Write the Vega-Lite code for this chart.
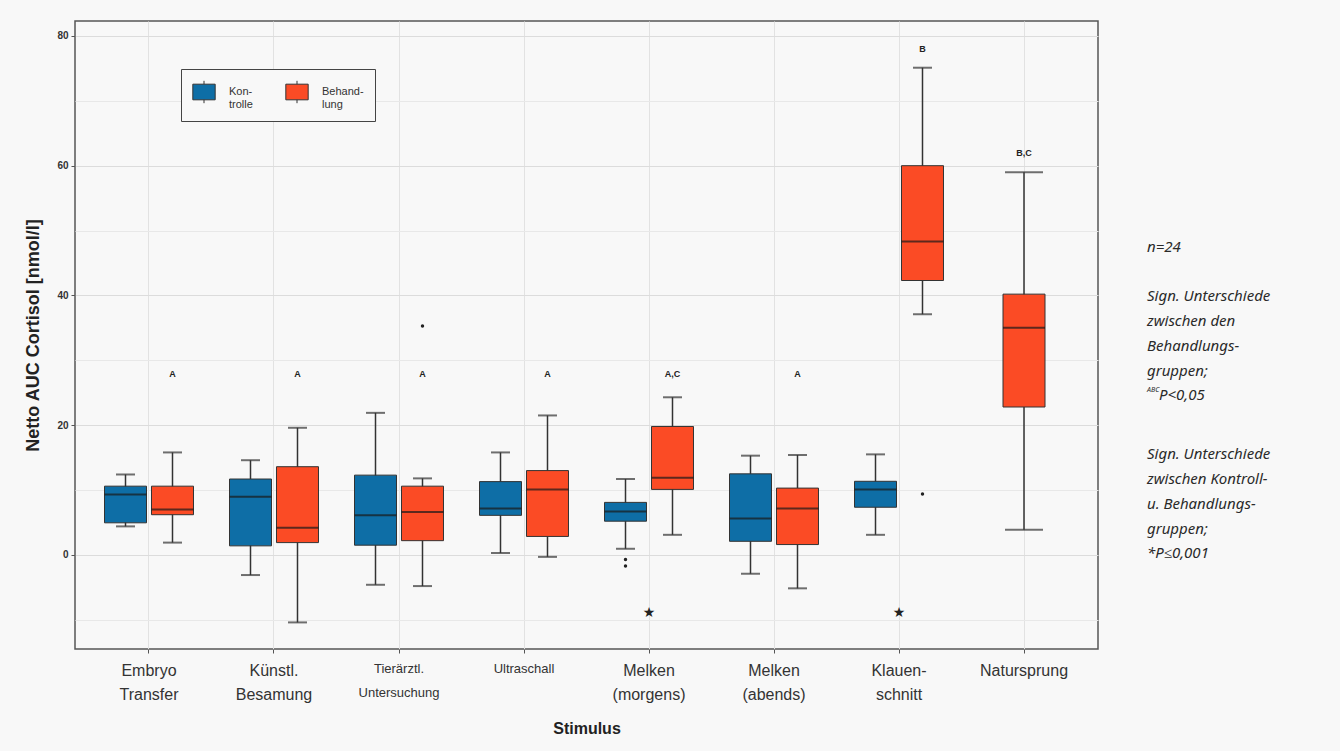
{
  "$schema": "https://vega.github.io/schema/vega-lite/v6.json",
  "background": "#f8f8f8",
  "padding": {"left": 24, "top": 20, "right": 72, "bottom": 15},
  "config": {
    "view": {"fill": "#f8f8f8", "stroke": "#555555", "strokeWidth": 1.5},
    "font": "Liberation Sans"
  },
  "datasets": {
    "boxes": [
      {"stimulus": "Embryo Transfer", "group": "Kontrolle", "lo": 4.4, "q1": 4.95, "med": 9.3, "q3": 10.6, "hi": 12.4},
      {"stimulus": "Embryo Transfer", "group": "Behandlung", "lo": 1.9, "q1": 6.2, "med": 7.0, "q3": 10.6, "hi": 15.8},
      {"stimulus": "Künstl. Besamung", "group": "Kontrolle", "lo": -3.1, "q1": 1.4, "med": 8.95, "q3": 11.7, "hi": 14.6},
      {"stimulus": "Künstl. Besamung", "group": "Behandlung", "lo": -10.4, "q1": 1.9, "med": 4.2, "q3": 13.6, "hi": 19.6},
      {"stimulus": "Tierärztl. Untersuchung", "group": "Kontrolle", "lo": -4.6, "q1": 1.5, "med": 6.1, "q3": 12.3, "hi": 21.9},
      {"stimulus": "Tierärztl. Untersuchung", "group": "Behandlung", "lo": -4.8, "q1": 2.2, "med": 6.6, "q3": 10.6, "hi": 11.8},
      {"stimulus": "Ultraschall", "group": "Kontrolle", "lo": 0.3, "q1": 6.1, "med": 7.15, "q3": 11.3, "hi": 15.8},
      {"stimulus": "Ultraschall", "group": "Behandlung", "lo": -0.3, "q1": 2.85, "med": 10.1, "q3": 13.0, "hi": 21.5},
      {"stimulus": "Melken (morgens)", "group": "Kontrolle", "lo": 0.95, "q1": 5.2, "med": 6.7, "q3": 8.1, "hi": 11.7},
      {"stimulus": "Melken (morgens)", "group": "Behandlung", "lo": 3.1, "q1": 10.1, "med": 11.9, "q3": 19.8, "hi": 24.3},
      {"stimulus": "Melken (abends)", "group": "Kontrolle", "lo": -2.9, "q1": 2.1, "med": 5.6, "q3": 12.5, "hi": 15.3},
      {"stimulus": "Melken (abends)", "group": "Behandlung", "lo": -5.15, "q1": 1.6, "med": 7.15, "q3": 10.3, "hi": 15.4},
      {"stimulus": "Klauenschnitt", "group": "Kontrolle", "lo": 3.1, "q1": 7.35, "med": 10.1, "q3": 11.35, "hi": 15.5},
      {"stimulus": "Klauenschnitt", "group": "Behandlung", "lo": 37.1, "q1": 42.3, "med": 48.3, "q3": 60.0, "hi": 75.1},
      {"stimulus": "Natursprung", "group": "Behandlung", "lo": 3.9, "q1": 22.8, "med": 35.0, "q3": 40.2, "hi": 59.0}
    ],
    "outliers": [
      {"stimulus": "Tierärztl. Untersuchung", "group": "Behandlung", "value": 35.3},
      {"stimulus": "Melken (morgens)", "group": "Kontrolle", "value": -0.7},
      {"stimulus": "Melken (morgens)", "group": "Kontrolle", "value": -1.7},
      {"stimulus": "Klauenschnitt", "group": "Behandlung", "value": 9.4}
    ],
    "stars": [
      {"stimulus": "Melken (morgens)", "value": -8.9, "mark": "★"},
      {"stimulus": "Klauenschnitt", "value": -8.9, "mark": "★"}
    ],
    "letters": [
      {"stimulus": "Embryo Transfer", "group": "Behandlung", "value": 27.9, "label": "A"},
      {"stimulus": "Künstl. Besamung", "group": "Behandlung", "value": 27.9, "label": "A"},
      {"stimulus": "Tierärztl. Untersuchung", "group": "Behandlung", "value": 27.9, "label": "A"},
      {"stimulus": "Ultraschall", "group": "Behandlung", "value": 27.9, "label": "A"},
      {"stimulus": "Melken (morgens)", "group": "Behandlung", "value": 27.9, "label": "A,C"},
      {"stimulus": "Melken (abends)", "group": "Behandlung", "value": 27.9, "label": "A"},
      {"stimulus": "Klauenschnitt", "group": "Behandlung", "value": 78.0, "label": "B"},
      {"stimulus": "Natursprung", "group": "Behandlung", "value": 61.9, "label": "B,C"}
    ],
    "notes": [
      {"line": 0, "text": "n=24"},
      {"line": 2, "text": "Sign. Unterschiede"},
      {"line": 3, "text": "zwischen den"},
      {"line": 4, "text": "Behandlungs-"},
      {"line": 5, "text": "gruppen;"},
      {"line": 6, "sup": "ABC", "text": "P<0,05"},
      {"line": 8.4, "text": "Sign. Unterschiede"},
      {"line": 9.4, "text": "zwischen Kontroll-"},
      {"line": 10.4, "text": "u. Behandlungs-"},
      {"line": 11.4, "text": "gruppen;"},
      {"line": 12.4, "text": "*P≤0,001"}
    ]
  },
  "spacing": 43,
  "hconcat": [
    {
      "width": 1023,
      "height": 628,
      "layer": [
        {
          "data": {"name": "boxes"},
          "transform": [{"filter": "datum.stimulus != 'Natursprung'"}],
          "mark": {"type": "rule", "color": "#333333", "strokeWidth": 1.5},
          "encoding": {
            "x": {
              "field": "stimulus", "type": "nominal", "title": "Stimulus",
              "scale": {"domain": ["Embryo Transfer", "Künstl. Besamung", "Tierärztl. Untersuchung", "Ultraschall", "Melken (morgens)", "Melken (abends)", "Klauenschnitt", "Natursprung"], "paddingInner": 0, "paddingOuter": 0.092},
              "axis": {
                "labelAngle": 0,
                "bandPosition": 0.5,
                "grid": true,
                "gridColor": "#e2e2e2",
                "gridWidth": 1,
                "domain": false,
                "tickColor": "#555555",
                "tickSize": 4,
                "labelPadding": 9,
                "labelFont": "Liberation Sans",
                "labelFontSize": {"condition": {"test": "datum.value == 'Tierärztl. Untersuchung' || datum.value == 'Ultraschall'", "value": 13}, "value": 16},
                "labelLineHeight": 24,
                "labelBaseline": "top",
                "labelColor": "#333333",
                "labelExpr": "datum.value == 'Klauenschnitt' ? ['Klauen-', 'schnitt'] : split(datum.value, ' ')",
                "titleFont": "Liberation Sans",
                "titleFontSize": 16,
                "titleFontWeight": "bold",
                "titleColor": "#222222",
                "titlePadding": 18
              }
            },
            "xOffset": {"field": "group", "type": "nominal", "scale": {"domain": ["Kontrolle", "Behandlung"], "paddingInner": 0, "paddingOuter": 0.33}},
            "y": {
              "field": "lo", "type": "quantitative", "title": "Netto AUC Cortisol [nmol/l]",
              "scale": {"domain": [-14.5, 82.3], "nice": false, "zero": false},
              "axis": {
                "values": [-10, 0, 10, 20, 30, 40, 50, 60, 70, 80],
                "labelExpr": "datum.value % 20 == 0 ? datum.label : ''",
                "grid": true,
                "gridColor": {"condition": {"test": "datum.value % 20 == 0", "value": "#dcdcdc"}, "value": "#e8e8e8"},
                "tickOpacity": {"condition": {"test": "datum.value % 20 == 0", "value": 1}, "value": 0},
                "tickColor": "#555555",
                "tickSize": 4,
                "domain": false,
                "labelFontSize": 10,
                "labelFontWeight": "bold",
                "labelColor": "#333333",
                "labelPadding": 3,
                "titleFontSize": 18,
                "titleFontWeight": "bold",
                "titleColor": "#222222",
                "titlePadding": 14
              }
            },
            "y2": {"field": "hi"}
          }
        },
        {
          "data": {"name": "boxes"},
          "transform": [{"filter": "datum.stimulus != 'Natursprung'"}],
          "mark": {"type": "tick", "color": "#333333", "thickness": 2, "size": 19},
          "encoding": {
            "x": {"field": "stimulus", "type": "nominal"},
            "xOffset": {"field": "group", "type": "nominal"},
            "y": {"field": "hi", "type": "quantitative"}
          }
        },
        {
          "data": {"name": "boxes"},
          "transform": [{"filter": "datum.stimulus != 'Natursprung'"}],
          "mark": {"type": "tick", "color": "#333333", "thickness": 2, "size": 19},
          "encoding": {
            "x": {"field": "stimulus", "type": "nominal"},
            "xOffset": {"field": "group", "type": "nominal"},
            "y": {"field": "lo", "type": "quantitative"}
          }
        },
        {
          "data": {"name": "boxes"},
          "transform": [{"filter": "datum.stimulus != 'Natursprung'"}],
          "mark": {"type": "bar", "width": 42, "stroke": "#333333", "strokeWidth": 1},
          "encoding": {
            "x": {"field": "stimulus", "type": "nominal"},
            "xOffset": {"field": "group", "type": "nominal"},
            "y": {"field": "q1", "type": "quantitative"},
            "y2": {"field": "q3"},
            "color": {
              "field": "group", "type": "nominal",
              "scale": {"domain": ["Kontrolle", "Behandlung"], "range": ["#0e6ea6", "#fb4b25"]},
              "legend": {
                "orient": "none",
                "legendX": 106,
                "legendY": 48,
                "direction": "horizontal",
                "title": null,
                "strokeColor": "#444444",
                "fillColor": "#f8f8f8",
                "padding": 11,
                "symbolType": "M-1,-0.7H1V0.7H-1Z M0,-0.7V-1 M0,0.7V1",
                "symbolSize": 500,
                "symbolStrokeColor": "#333333",
                "symbolStrokeWidth": 1,
                "symbolOpacity": 1,
                "labelFontSize": 11,
                "labelColor": "#333333",
                "labelLineHeight": 19,
                "labelOffset": 13,
                "columnPadding": 30,
                "labelExpr": "datum.label == 'Kontrolle' ? ['Kon-', 'trolle'] : ['Behand-', 'lung']"
              }
            }
          }
        },
        {
          "data": {"name": "boxes"},
          "transform": [{"filter": "datum.stimulus != 'Natursprung'"}],
          "mark": {"type": "tick", "color": "#1a1a1a", "thickness": 2, "size": 42},
          "encoding": {
            "x": {"field": "stimulus", "type": "nominal"},
            "xOffset": {"field": "group", "type": "nominal"},
            "y": {"field": "med", "type": "quantitative"}
          }
        },
        {
          "data": {"name": "boxes"},
          "transform": [{"filter": "datum.stimulus == 'Natursprung'"}],
          "mark": {"type": "rule", "color": "#333333", "strokeWidth": 1.5},
          "encoding": {
            "x": {"field": "stimulus", "type": "nominal"},
            "y": {"field": "lo", "type": "quantitative"},
            "y2": {"field": "hi"}
          }
        },
        {
          "data": {"name": "boxes"},
          "transform": [{"filter": "datum.stimulus == 'Natursprung'"}],
          "mark": {"type": "tick", "color": "#333333", "thickness": 2, "size": 38},
          "encoding": {
            "x": {"field": "stimulus", "type": "nominal"},
            "y": {"field": "hi", "type": "quantitative"}
          }
        },
        {
          "data": {"name": "boxes"},
          "transform": [{"filter": "datum.stimulus == 'Natursprung'"}],
          "mark": {"type": "tick", "color": "#333333", "thickness": 2, "size": 38},
          "encoding": {
            "x": {"field": "stimulus", "type": "nominal"},
            "y": {"field": "lo", "type": "quantitative"}
          }
        },
        {
          "data": {"name": "boxes"},
          "transform": [{"filter": "datum.stimulus == 'Natursprung'"}],
          "mark": {"type": "bar", "width": 42, "stroke": "#333333", "strokeWidth": 1},
          "encoding": {
            "x": {"field": "stimulus", "type": "nominal"},
            "y": {"field": "q1", "type": "quantitative"},
            "y2": {"field": "q3"},
            "color": {"field": "group", "type": "nominal"}
          }
        },
        {
          "data": {"name": "boxes"},
          "transform": [{"filter": "datum.stimulus == 'Natursprung'"}],
          "mark": {"type": "tick", "color": "#1a1a1a", "thickness": 2, "size": 42},
          "encoding": {
            "x": {"field": "stimulus", "type": "nominal"},
            "y": {"field": "med", "type": "quantitative"}
          }
        },
        {
          "data": {"name": "outliers"},
          "mark": {"type": "point", "filled": true, "color": "#222222", "size": 12, "opacity": 1},
          "encoding": {
            "x": {"field": "stimulus", "type": "nominal"},
            "xOffset": {"field": "group", "type": "nominal"},
            "y": {"field": "value", "type": "quantitative"}
          }
        },
        {
          "data": {"name": "stars"},
          "mark": {"type": "text", "color": "#222222", "fontSize": 14, "baseline": "middle", "font": "DejaVu Sans"},
          "encoding": {
            "x": {"field": "stimulus", "type": "nominal"},
            "y": {"field": "value", "type": "quantitative"},
            "text": {"field": "mark"}
          }
        },
        {
          "data": {"name": "letters"},
          "transform": [{"filter": "datum.stimulus != 'Natursprung'"}],
          "mark": {"type": "text", "color": "#222222", "fontSize": 9, "fontWeight": "bold", "baseline": "middle"},
          "encoding": {
            "x": {"field": "stimulus", "type": "nominal"},
            "xOffset": {"field": "group", "type": "nominal"},
            "y": {"field": "value", "type": "quantitative"},
            "text": {"field": "label"}
          }
        },
        {
          "data": {"name": "letters"},
          "transform": [{"filter": "datum.stimulus == 'Natursprung'"}],
          "mark": {"type": "text", "color": "#222222", "fontSize": 9, "fontWeight": "bold", "baseline": "middle"},
          "encoding": {
            "x": {"field": "stimulus", "type": "nominal"},
            "y": {"field": "value", "type": "quantitative"},
            "text": {"field": "label"}
          }
        }
      ]
    },
    {
      "width": 10,
      "height": 628,
      "view": {"stroke": null, "fill": null},
      "data": {"name": "notes"},
      "layer": [
        {
          "transform": [{"filter": "!datum.sup"}],
          "mark": {"type": "text", "align": "left", "baseline": "middle", "fontStyle": "italic", "fontSize": 15, "color": "#2a2a2a", "font": "Noto Sans"},
          "encoding": {
            "y": {"field": "line", "type": "quantitative", "scale": {"domain": [-9.15, 16.275], "reverse": true, "nice": false, "zero": false}, "axis": null},
            "text": {"field": "text"}
          }
        },
        {
          "transform": [{"filter": "datum.sup"}],
          "mark": {"type": "text", "align": "left", "baseline": "middle", "fontStyle": "italic", "fontSize": 15, "color": "#2a2a2a", "font": "Noto Sans", "dx": 12},
          "encoding": {
            "y": {"field": "line", "type": "quantitative"},
            "text": {"field": "text"}
          }
        },
        {
          "transform": [{"filter": "datum.sup"}],
          "mark": {"type": "text", "align": "left", "baseline": "middle", "fontStyle": "italic", "fontSize": 7, "color": "#2a2a2a", "font": "Noto Sans", "dy": -5},
          "encoding": {
            "y": {"field": "line", "type": "quantitative"},
            "text": {"field": "sup"}
          }
        }
      ]
    }
  ]
}
